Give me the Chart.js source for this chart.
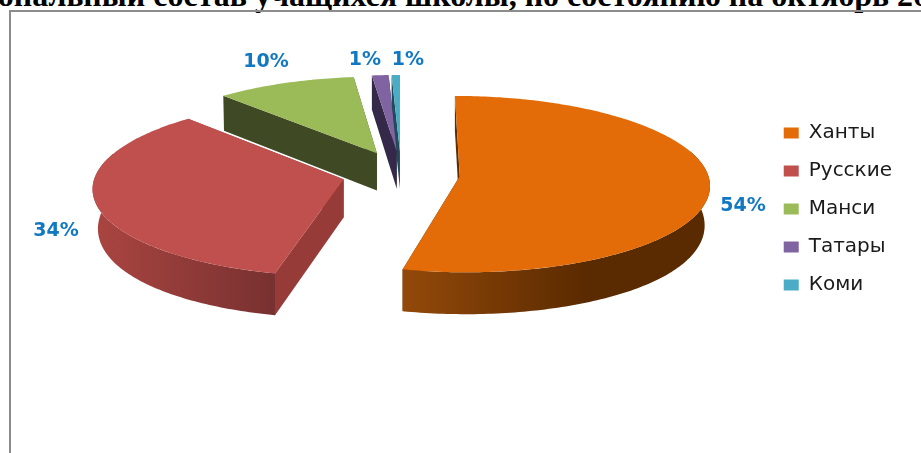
<!DOCTYPE html>
<html>
<head>
<meta charset="utf-8">
<script src="https://cdn.jsdelivr.net/npm/chart.js@4"></script>
<style>
html, body { margin: 0; padding: 0; background: #fff; overflow: hidden; }
#wrap { position: relative; width: 921px; height: 453px; overflow: hidden; }
#title { position: absolute; left: -80px; top: -23px; white-space: nowrap; font: bold 32px "Liberation Serif"; color: #000; }
#frame { position: absolute; left: 9px; top: 10px; right: -5px; bottom: -5px; border: 2px solid #8c8c8c; }
#myChart { position: absolute; left: 0; top: 0; }
</style>
</head>
<body>
<div id="wrap">
  <div id="title">Национальный состав учащихся школы, по состоянию на октябрь 20</div>
  <div id="frame"></div>
  <canvas id="myChart" width="921" height="453"></canvas>
</div>
<script>
const labels = ['Ханты', 'Русские', 'Манси', 'Татары', 'Коми'];
const values = [53.7, 34.4, 10.1, 1.2, 0.6];
const colors = ['#e36c09', '#c0504d', '#9bbb59', '#8064a2', '#4bacc6'];
const sideColors = ['#5f2d00', '#973b39', '#3f4a24', '#35294a', '#1d4c5a'];
const rimLeft = ['#93490a', '#ab4541', '#3f4a24', '#35294a', '#1d4c5a'];
const rimRight = ['#5a2a00', '#773130', '#3f4a24', '#35294a', '#1d4c5a'];
const rimStop = [0.6, 1, 1, 1, 1];

// picture of the tilted pie
const CX = 401, CY = 173.5, R = 248, SQUASH = 87, PERSP = 0.09, DEPTH = 38, EXPLODE = 59;
const LOW_SHRINK = 0.022, V_EXPLODE = 1.1;
const labelSpot = [[743, 206], [56, 231], [266, 62], [365, 60], [408, 60]];

function project(arc, a, r, h) {
    const mid = (arc.startAngle + arc.endAngle) / 2;
    const u = (r * Math.cos(a) + EXPLODE * Math.cos(mid)) / R;
    const v = -(r * Math.sin(a) + V_EXPLODE * EXPLODE * Math.sin(mid)) / R;
    const w = 1 + PERSP * v;
    // the bottom plane pulls in at the sides only, corners stay vertical
    const uApex = EXPLODE * Math.cos(mid) / R;
    const vApex = -V_EXPLODE * EXPLODE * Math.sin(mid) / R;
    const xApex = CX + R * uApex / (1 + PERSP * vApex);
    const x = CX + R * u / w;
    const shrink = LOW_SHRINK * h * Math.pow(Math.cos(a), 4) * (r > 0 ? 1 : 0);
    return [xApex + (x - xApex) * (1 - shrink), CY - SQUASH * v / w + h * DEPTH / w];
}

// rim samples for the part of the slice that faces the viewer
function rimPoints(arc, h, reverse) {
    const from = Math.max(arc.startAngle, -0.3);
    const to = Math.min(arc.endAngle, Math.PI + 0.3);
    const pts = [];
    if (to <= from) return pts;
    const n = Math.max(2, Math.ceil((to - from) * 60));
    for (let i = 0; i <= n; i++) {
        pts.push(project(arc, from + (to - from) * i / n, R, h));
    }
    return reverse ? pts.reverse() : pts;
}

function topPoints(arc) {
    const pts = [project(arc, 0, 0, 0)];
    const n = Math.max(2, Math.ceil((arc.endAngle - arc.startAngle) * 60));
    for (let i = 0; i <= n; i++) {
        pts.push(project(arc, arc.startAngle + (arc.endAngle - arc.startAngle) * i / n, R, 0));
    }
    return pts;
}

function fillPoly(ctx, pts, fill) {
    ctx.beginPath();
    pts.forEach((p, i) => i ? ctx.lineTo(p[0], p[1]) : ctx.moveTo(p[0], p[1]));
    ctx.closePath();
    ctx.fillStyle = fill;
    ctx.fill();
}

const pie3d = {
    id: 'pie3d',
    beforeDatasetsDraw(chart) {
        const ctx = chart.ctx;
        const arcs = chart.getDatasetMeta(0).data;
        // back slices first, so the nearer ones cover them
        [4, 3, 2, 1, 0].forEach(i => {
            const arc = arcs[i];
            const apexTop = project(arc, 0, 0, 0), apexLow = project(arc, 0, 0, 1);
            const s0 = project(arc, arc.startAngle, R, 0), s1 = project(arc, arc.startAngle, R, 1);
            const e0 = project(arc, arc.endAngle, R, 0), e1 = project(arc, arc.endAngle, R, 1);
            fillPoly(ctx, [apexTop, s0, s1, apexLow], sideColors[i]);
            fillPoly(ctx, [apexTop, e0, e1, apexLow], sideColors[i]);

            const top = rimPoints(arc, 0, false), low = rimPoints(arc, 1, true);
            if (top.length) {
                const xs = top.map(p => p[0]);
                const grad = ctx.createLinearGradient(Math.min(...xs), 0, Math.max(...xs), 0);
                // the rim is listed right to left in angle, so the stops run from the left edge
                grad.addColorStop(0, rimLeft[i]);
                grad.addColorStop(rimStop[i], rimRight[i]);
                grad.addColorStop(1, rimRight[i]);
                fillPoly(ctx, top.concat(low), grad);
            }
            fillPoly(ctx, topPoints(arc), colors[i]);
        });
        const total = values.reduce((a, b) => a + b, 0);
        ctx.font = 'bold 19px "DejaVu Sans"';
        ctx.fillStyle = '#1178c2';
        ctx.textAlign = 'center';
        ctx.textBaseline = 'middle';
        values.forEach((v, i) => {
            ctx.fillText(Math.round(v / total * 100) + '%', labelSpot[i][0], labelSpot[i][1]);
        });
        return false;
    }
};

const graph = {
    type: 'pie',
    data: {
        labels: labels,
        datasets: [{
            data: values,
            backgroundColor: colors,
            borderWidth: 0
        }]
    },
    options: {
        responsive: false,
        animation: false,
        layout: { padding: { top: 105, right: 19 } },
        plugins: {
            tooltip: { enabled: false },
            legend: {
                position: 'right',
                align: 'start',
                labels: {
                    boxWidth: 15,
                    boxHeight: 11,
                    padding: 18,
                    color: '#1a1a1a',
                    font: { family: '"DejaVu Sans"', size: 20 }
                }
            }
        }
    },
    plugins: [pie3d]
};

const myChart = new Chart(document.getElementById('myChart').getContext('2d'), graph);
</script>
</body>
</html>
